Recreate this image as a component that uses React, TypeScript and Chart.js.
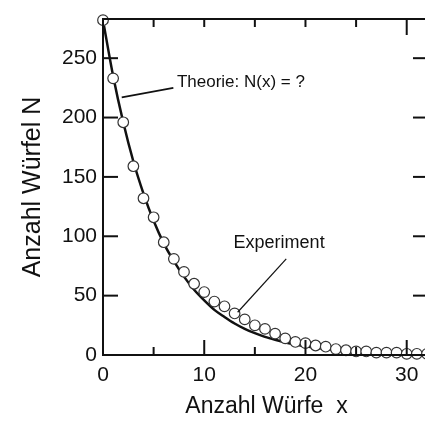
import React, { useEffect, useRef } from "react";
import { Chart, registerables } from "chart.js";

Chart.register(...registerables);

const throwsX = [0,1,2,3,4,5,6,7,8,9,10,11,12,13,14,15,16,17,18,19,20,21,22,23,24,25,26,27,28,29,30,31,32];
const experimentN = [282,233,196,159,132,116,95,81,70,60,53,45,41,35,30,25,22,18,14,11,10,8,7,5,4,3,3,2,2,2,1,1,1];
const theoryN = [282,235,196,163,136,113,94,79,66,55,46,38,32,26.5,22,18.4,15.3,12.8,10.6,8.9,7.4,6.2,5.1,4.3,3.6,3.0,2.5,2.1,1.7,1.4,1.2,1.0,0.8];
const xTickValues = [0, 5, 10, 15, 20, 25, 30];
const xTickLabels = ["0", "10", "20", "30"];
const yTickValues = [0, 50, 100, 150, 200, 250];
const yTickLabels = ["0", "50", "100", "150", "200", "250"];

const FONT = "'Liberation Sans', Arial, Helvetica, sans-serif";
const INK = "#111";

const frameAndAnnotations = {
  id: "frameAndAnnotations",
  afterDatasetsDraw(chart: any) {
    const { ctx, chartArea } = chart;
    const xs = chart.scales.x;
    const ys = chart.scales.y;
    const { left, right, top, bottom } = chartArea;
    ctx.save();
    ctx.strokeStyle = INK;
    ctx.lineWidth = 2;
    ctx.lineCap = "butt";
    ctx.beginPath();
    ctx.moveTo(left, top);
    ctx.lineTo(right, top);
    ctx.lineTo(right, bottom);
    ctx.lineTo(left, bottom);
    ctx.closePath();
    ctx.stroke();
    xs.ticks.forEach((t: any) => {
      const v = t.value;
      const px = xs.getPixelForValue(v);
      const major = v % 10 === 0;
      ctx.beginPath();
      ctx.moveTo(px, bottom);
      ctx.lineTo(px, bottom - (major ? 15 : 8));
      ctx.stroke();
      ctx.beginPath();
      ctx.moveTo(px, top);
      ctx.lineTo(px, top + (v === 30 ? 16 : 8));
      ctx.stroke();
    });
    ys.ticks.forEach((t: any) => {
      const py = ys.getPixelForValue(t.value);
      ctx.beginPath();
      ctx.moveTo(left, py);
      ctx.lineTo(left + 15, py);
      ctx.stroke();
      ctx.beginPath();
      ctx.moveTo(right, py);
      ctx.lineTo(right - 17, py);
      ctx.stroke();
    });
    ctx.lineWidth = 1.6;
    ctx.beginPath();
    ctx.moveTo(xs.getPixelForValue(1.85), ys.getPixelForValue(217));
    ctx.lineTo(xs.getPixelForValue(6.95), ys.getPixelForValue(225));
    ctx.stroke();
    ctx.lineWidth = 1.2;
    ctx.beginPath();
    ctx.moveTo(xs.getPixelForValue(18.1), ys.getPixelForValue(81));
    ctx.lineTo(xs.getPixelForValue(13.3), ys.getPixelForValue(36));
    ctx.stroke();
    ctx.fillStyle = INK;
    ctx.textBaseline = "middle";
    ctx.textAlign = "left";
    ctx.font = `17px ${FONT}`;
    ctx.fillText("Theorie: N(x) = ?", xs.getPixelForValue(7.3), ys.getPixelForValue(230));
    ctx.font = `18px ${FONT}`;
    ctx.fillText("Experiment", xs.getPixelForValue(12.9), ys.getPixelForValue(94));
    ctx.restore();
  },
};

export default function App() {
  const ref = useRef<HTMLCanvasElement | null>(null);
  useEffect(() => {
    document.body.style.margin = "0";
    const canvas = ref.current!;
    const chart = new Chart(canvas, {
      type: "line",
      data: {
        labels: throwsX,
        datasets: [
          {
            label: "Experiment",
            data: throwsX.map((x, i) => ({ x, y: experimentN[i] })),
            showLine: false,
            pointRadius: 5.3,
            pointBackgroundColor: "#fff",
            pointBorderColor: "#333",
            pointBorderWidth: 1.2,
            clip: false as any,
            order: 0,
          },
          {
            label: "Theorie",
            data: throwsX.map((x, i) => ({ x, y: theoryN[i] })),
            borderColor: INK,
            borderWidth: 2.5,
            pointRadius: 0,
            cubicInterpolationMode: "monotone",
            fill: false,
            clip: false as any,
            order: 1,
          },
        ],
      },
      options: {
        animation: false,
        responsive: false,
        events: [],
        layout: { padding: { top: 19, right: 10, left: 0, bottom: 0 } },
        plugins: { legend: { display: false }, tooltip: { enabled: false } },
        scales: {
          x: {
            type: "linear",
            min: 0,
            max: 32.3,
            grid: { display: false, drawTicks: false },
            border: { display: false },
            afterBuildTicks: (s: any) => { s.ticks = xTickValues.map((value) => ({ value })); },
            ticks: {
              autoSkip: false,
              maxRotation: 0,
              padding: 8,
              color: INK,
              font: { family: FONT, size: 21 },
              callback: (v: any) => (xTickLabels.includes(String(v)) ? String(v) : ""),
            },
            title: {
              display: true,
              text: "Anzahl Würfe  x",
              color: INK,
              font: { family: FONT, size: 23 },
              padding: { top: 0, bottom: 2 },
            },
            afterFit: (s: any) => { s.height = 67; s.paddingRight = 0; s.paddingLeft = 0; },
          },
          y: {
            type: "linear",
            min: 0,
            max: 283,
            grid: { display: false, drawTicks: false },
            border: { display: false },
            afterBuildTicks: (s: any) => { s.ticks = yTickValues.map((value) => ({ value })); },
            ticks: {
              autoSkip: false,
              padding: 6,
              color: INK,
              font: { family: FONT, size: 21 },
              callback: (v: any) => (yTickLabels.includes(String(v)) ? String(v) : ""),
            },
            title: {
              display: true,
              text: "Anzahl Würfel N",
              color: INK,
              font: { family: FONT, size: 25 },
              padding: { top: 18, bottom: 0 },
            },
            afterFit: (s: any) => { s.width = 103; },
          },
        },
      },
      plugins: [frameAndAnnotations],
    });
    return () => chart.destroy();
  }, []);
  return (
    <div style={{ width: 425, height: 422, overflow: "hidden", background: "#fff" }}>
      <canvas ref={ref} width={440} height={422} style={{ display: "block" }} />
    </div>
  );
}
